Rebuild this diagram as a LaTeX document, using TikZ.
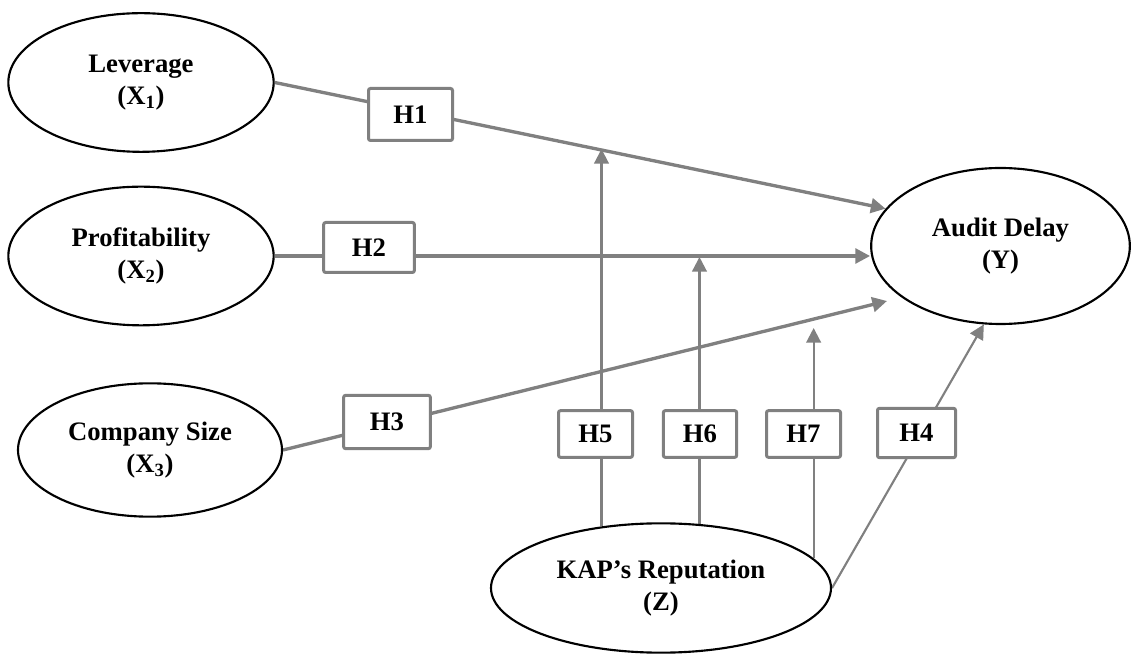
\documentclass[tikz,border=0pt]{standalone}
\usepackage{fontspec}
\setmainfont{Liberation Serif}
\usetikzlibrary{arrows.meta,backgrounds,shapes.geometric}

\definecolor{lnkgray}{RGB}{128,128,128}
\tikzset{every picture/.style={line width=0.75pt}}
\tikzset{
  var/.style={ellipse,draw=black,line width=1.6pt,align=center,inner sep=0pt,
    font=\bfseries\fontsize{20}{24}\selectfont},
  hyp/.style={draw=lnkgray,fill=white,line width=2.25pt,rounded corners=1.5pt,inner sep=0pt,
    minimum width=55.5pt,minimum height=35pt,font=\bfseries\fontsize{20}{24}\selectfont},
  lnk/.style={draw=lnkgray,line width=2.5pt,-{Triangle[length=11pt,width=11pt]}},
  mod/.style={draw=lnkgray,line width=1.6pt,-{Triangle[length=11pt,width=11pt]}},
}

\begin{document}
\begin{tikzpicture}[x=0.75pt,y=0.75pt,yscale=-1,xscale=1]
\useasboundingbox (0,0) rectangle (1132,655);

%Ellipses: variables
\node[var,minimum width=199pt,minimum height=104pt] (lev) at (141,82.5) {Leverage\\(X\textsubscript{1})};
\node[var,minimum width=199pt,minimum height=104pt] (prof) at (141,256) {Profitability\\(X\textsubscript{2})};
\node[var,minimum width=198pt,minimum height=100pt] (size) at (150,450) {Company Size\\(X\textsubscript{3})};
\node[var,minimum width=194pt,minimum height=117pt] (delay) at (1000.5,246) {Audit Delay\\(Y)};
\node[var,minimum width=255pt,minimum height=97pt] (kap) at (661,588) {KAP’s Reputation\\(Z)};

%Shape: Rectangle - hypotheses
\node[hyp,minimum width=63pt,minimum height=39pt] (h1) at (410.5,114.5) {H1};
\node[hyp,minimum width=68pt,minimum height=37.5pt] (h2) at (369,247.5) {H2};
\node[hyp,minimum width=65pt,minimum height=40pt] (h3) at (387,422) {H3};
\node[hyp] (h5) at (595.5,434) {H5};
\node[hyp,minimum width=55pt] (h6) at (700,434) {H6};
\node[hyp] (h7) at (803.5,434) {H7};
\node[hyp,minimum width=58.5pt,minimum height=37pt] (h4) at (916.5,433) {H4};

%arrow ends
\coordinate (t3) at (887,301);
\coordinate (t5) at (600,149);
\coordinate (t6) at (699,257);
\coordinate (t7) at (811,328);

%Straight Lines behind the boxes
\begin{pgfonlayer}{background}
\draw[lnk] (lev.east) -- (delay.162);
\draw[lnk] (prof.east) -- (prof.east -| delay.west);
\draw[lnk] (size.east) -- (t3);
\draw[mod] (kap.134.7) -- (kap.134.7 |- t5);
\draw[mod] (kap.59.4) -- (kap.59.4 |- t6);
\draw[mod] (kap.11.9) -- (kap.11.9 |- t7);
\draw[mod] (kap.east) -- (delay.258.5);
\end{pgfonlayer}
\end{tikzpicture}
\end{document}
